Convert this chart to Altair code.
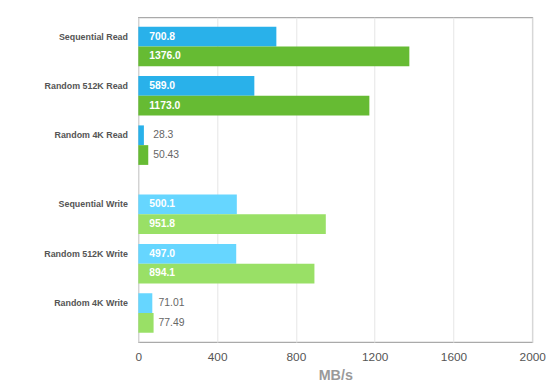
import altair as alt
import pandas as pd

categories = ["Sequential Read", "Random 512K Read", "Random 4K Read",
              "Sequential Write", "Random 512K Write", "Random 4K Write"]
kinds = ["Read", "Read", "Read", "Write", "Write", "Write"]
series_a = [700.8, 589.0, 28.3, 500.1, 497.0, 71.01]
series_b = [1376.0, 1173.0, 50.43, 951.8, 894.1, 77.49]
labels_a = ["700.8", "589.0", "28.3", "500.1", "497.0", "71.01"]
labels_b = ["1376.0", "1173.0", "50.43", "951.8", "894.1", "77.49"]
x_ticks = [0, 400, 800, 1200, 1600, 2000]

rows = []
for c, k, a, b, la, lb in zip(categories, kinds, series_a, series_b, labels_a, labels_b):
    gmax = max(a, b)
    for s, v, lab in (("a", a, la), ("b", b, lb)):
        inside = v > 200
        rows.append(dict(cat=c, kind=k, series=s, value=v, label=lab,
                         inside=inside, lx=0 if inside else gmax))
df = pd.DataFrame(rows)

colors = {("Read", "a"): "#29B1EA", ("Read", "b"): "#66BB33",
          ("Write", "a"): "#66D6FF", ("Write", "b"): "#99E066"}
offsets = {("Read", "a"): -20, ("Read", "b"): 0,
           ("Write", "a"): 0, ("Write", "b"): 20}

FONT = "Liberation Sans"

yscale = alt.Scale(domain=categories, paddingInner=0, paddingOuter=0.29)
xscale = alt.Scale(domain=[0, 2000], nice=False)

base = alt.Chart(df)
layers = []
first = True
for (k, s), col in colors.items():
    off = offsets[(k, s)]
    sub = base.transform_filter(
        f"datum.kind == '{k}' && datum.series == '{s}'")
    if first:
        xenc = alt.X("value:Q", scale=xscale,
                     axis=alt.Axis(values=x_ticks, format="d", grid=True, gridColor="#e6e6e6",
                                   domain=False, ticks=False, labelPadding=10,
                                   labelFlush=False, labelFont=FONT, labelFontSize=12,
                                   labelColor="#555555", title="MB/s",
                                   titleFont=FONT, titleFontSize=14.5,
                                   titleColor="#9a9a9a", titleFontWeight="bold",
                                   titlePadding=6))
        yenc = alt.Y("cat:N", scale=yscale, sort=categories,
                     axis=alt.Axis(title=None, domain=False, ticks=False,
                                   labelPadding=11, labelFont=FONT, labelFontSize=9,
                                   labelFontWeight="bold", labelColor="#555555",
                                   labelOffset={"condition": {"test": "indexof(datum.value, 'Read') >= 0", "value": -20}, "value": 0}))
        first = False
    else:
        xenc = alt.X("value:Q", scale=xscale)
        yenc = alt.Y("cat:N", scale=yscale, sort=categories)
    bars = sub.mark_bar(height=20, yOffset=off, color=col).encode(x=xenc, y=yenc)
    t_in = sub.transform_filter("datum.inside").mark_text(
        align="left", baseline="middle", dx=11, yOffset=off,
        font=FONT, fontSize=10.5, fontWeight="bold", color="#ffffff").encode(
        x=alt.X("lx:Q", scale=xscale),
        y=alt.Y("cat:N", scale=yscale, sort=categories),
        text="label:N")
    t_out = sub.transform_filter("!datum.inside").mark_text(
        align="left", baseline="middle", dx=5, yOffset=off,
        font=FONT, fontSize=10.5, color="#666666").encode(
        x=alt.X("lx:Q", scale=xscale),
        y=alt.Y("cat:N", scale=yscale, sort=categories),
        text="label:N")
    layers += [bars, t_in, t_out]

chart = alt.layer(*layers).properties(
    width=399, height=329,
    autosize=alt.AutoSizeParams(type="none"),
    padding={"left": 132, "top": 7, "right": 20, "bottom": 40},
).configure_view(stroke="#aaaaaa", strokeWidth=1.2)

chart.save("out.html", embed_options={"renderer": "svg", "actions": False})
